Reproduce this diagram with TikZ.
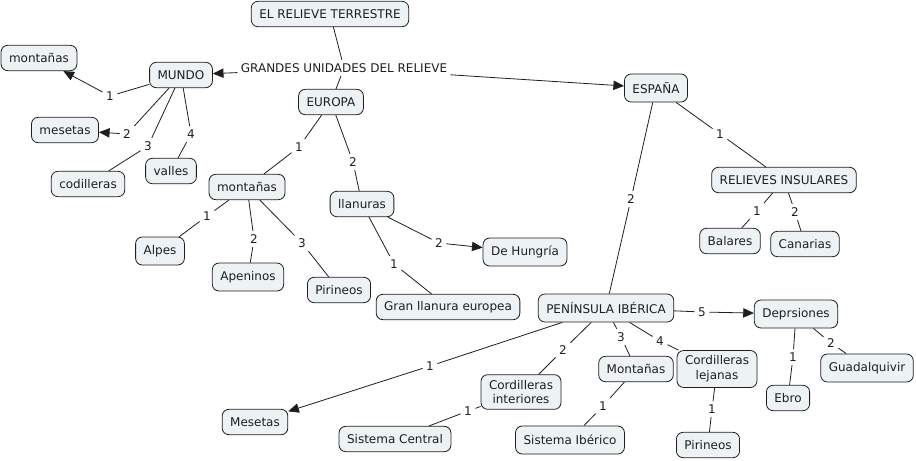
\documentclass[tikz,border=0pt]{standalone}
\usepackage{fontspec}
\setmainfont{DejaVu Sans}
\usetikzlibrary{arrows.meta}
\definecolor{boxfill}{RGB}{237,243,245}
\definecolor{ink}{RGB}{30,30,30}
\tikzset{
  concept/.style={draw=ink, fill=boxfill, rounded corners=5pt, line width=0.6pt,
    inner xsep=6pt, inner ysep=2pt, minimum height=19pt, align=center,
    font=\fontsize{9}{11}\selectfont, text=ink},
  tall/.style={minimum height=21pt},
  twoline/.style={inner ysep=4pt},
  lbl/.style={inner sep=2.5pt, font=\fontsize{9}{10.5}\selectfont, text=ink},
  link/.style={draw=ink, line width=0.6pt},
  arr/.style={link, -{Triangle[length=8pt,width=7pt]}},
}
\begin{document}
\begin{tikzpicture}[x=0.75pt,y=-0.75pt]
\useasboundingbox (0,0) rectangle (916,460);
% concepts
\node[concept] (root) at (330,14) {EL RELIEVE TERRESTRE};
\node[concept] (mont1) at (39,58) {montañas};
\node[concept] (mundo) at (181,75) {MUNDO};
\node[concept] (europa) at (331,102) {EUROPA};
\node[concept,tall] (espana) at (656,88) {ESPAÑA};
\node[concept] (mes1) at (65,130) {mesetas};
\node[concept] (codi) at (88,184) {codilleras};
\node[concept] (valles) at (171,171) {valles};
\node[concept] (mont2) at (247,187) {montañas};
\node[concept] (llan) at (362,204) {llanuras};
\node[concept] (insul) at (784,180) {RELIEVES INSULARES};
\node[concept,tall] (alpes) at (160,251) {Alpes};
\node[concept,tall] (apen) at (248,277) {Apeninos};
\node[concept] (piri1) at (339,290) {Pirineos};
\node[concept,tall] (hung) at (525,252) {De Hungría};
\node[concept] (bal) at (730,241) {Balares};
\node[concept] (can) at (805,244) {Canarias};
\node[concept] (gran) at (448,307) {Gran llanura europea};
\node[concept,tall] (pen) at (606,308) {PENÍNSULA IBÉRICA};
\node[concept,tall] (dep) at (796,314) {Deprsiones};
\node[concept] (mes2) at (255,422) {Mesetas};
\node[concept,twoline] (cint) at (521,392) {Cordilleras\\interiores};
\node[concept] (mont3) at (636,369) {Montañas};
\node[concept,twoline] (clej) at (717,369) {Cordilleras\\lejanas};
\node[concept,tall] (guad) at (867,368) {Guadalquivir};
\node[concept] (ebro) at (788,398) {Ebro};
\node[concept] (scen) at (395,439) {Sistema Central};
\node[concept,tall] (sibe) at (570,440) {Sistema Ibérico};
\node[concept] (piri2) at (708,445) {Pirineos};
% labels
\node[lbl] (gu) at (344,68) {GRANDES UNIDADES DEL RELIEVE};
\node[lbl] (m1) at (110,96) {1};
\node[lbl] (m2) at (127,134) {2};
\node[lbl] (m3) at (148,146) {3};
\node[lbl] (m4) at (191,134) {4};
\node[lbl] (e1) at (299,147) {1};
\node[lbl] (e2) at (353,162) {2};
\node[lbl] (t1) at (207,216) {1};
\node[lbl] (t2) at (254,239) {2};
\node[lbl] (t3) at (302,243) {3};
\node[lbl] (l1) at (394,264) {1};
\node[lbl] (l2) at (439,243) {2};
\node[lbl] (s1) at (720,134) {1};
\node[lbl] (s2) at (631,199) {2};
\node[lbl] (i1) at (757,211) {1};
\node[lbl] (i2) at (795,212) {2};
\node[lbl] (p5) at (702,312) {5};
\node[lbl] (p1) at (430,366) {1};
\node[lbl] (p2) at (563,350) {2};
\node[lbl] (p3) at (621,337) {3};
\node[lbl] (p4) at (660,341) {4};
\node[lbl] (c1) at (468,411) {1};
\node[lbl] (n1) at (603,406) {1};
\node[lbl] (j1) at (712,409) {1};
\node[lbl] (d1) at (793,357) {1};
\node[lbl] (d2) at (831,343) {2};
% links
\draw[link] (root) -- (gu);
\draw[link] (gu) -- (europa);
\draw[arr] (gu) -- (mundo);
\draw[arr] (gu) -- (espana);
\draw[arr] (mundo) -- (m1) -- (mont1);
\draw[arr] (mundo) -- (m2) -- (mes1);
\draw[link] (mundo) -- (m3) -- (codi);
\draw[link] (mundo) -- (m4) -- (valles);
\draw[link] (europa) -- (e1) -- (mont2);
\draw[link] (europa) -- (e2) -- (llan);
\draw[link] (mont2) -- (t1) -- (alpes);
\draw[link] (mont2) -- (t2) -- (apen);
\draw[link] (mont2) -- (t3) -- (piri1);
\draw[link] (llan) -- (l1) -- (gran);
\draw[arr] (llan) -- (l2) -- (hung);
\draw[link] (espana) -- (s1) -- (insul);
\draw[link] (espana) -- (s2) -- (pen);
\draw[link] (insul) -- (i1) -- (bal);
\draw[link] (insul) -- (i2) -- (can);
\draw[arr] (pen) -- (p5) -- (dep);
\draw[arr] (pen) -- (p1) -- (mes2);
\draw[link] (pen) -- (p2) -- (cint);
\draw[link] (pen) -- (p3) -- (mont3);
\draw[link] (pen) -- (p4) -- (clej);
\draw[link] (cint) -- (c1) -- (scen);
\draw[link] (mont3) -- (n1) -- (sibe);
\draw[link] (clej) -- (j1) -- (piri2);
\draw[link] (dep) -- (d1) -- (ebro);
\draw[link] (dep) -- (d2) -- (guad);
\end{tikzpicture}
\end{document}
